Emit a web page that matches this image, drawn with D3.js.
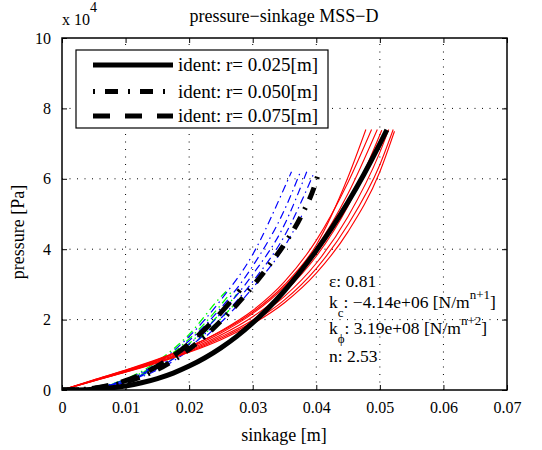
<!DOCTYPE html>
<html>
<head>
<meta charset="utf-8">
<script src="https://cdn.jsdelivr.net/npm/d3@7"></script>
<style>
  html, body { margin: 0; padding: 0; background: #fff; }
  svg { display: block; font-family: "Liberation Serif", "Times New Roman", serif; }
  svg text { font-family: "Liberation Serif", "Times New Roman", serif; }
</style>
</head>
<body>
<svg id="chart" width="542" height="450"></svg>
<script>
// ---- tick labels ----
const xTicks = [0, 0.01, 0.02, 0.03, 0.04, 0.05, 0.06, 0.07];
const yTicks = [0, 20000, 40000, 60000, 80000, 100000];
const yTickLabels = ["0", "2", "4", "6", "8", "10"];

// ---- identified curves (black) ----
const identZ_025 = [0, 0.0025, 0.005, 0.0075, 0.01, 0.0125, 0.015, 0.0175, 0.02, 0.0225, 0.025, 0.0275, 0.03, 0.0325, 0.035, 0.0375, 0.04, 0.0425, 0.045, 0.0475, 0.05, 0.0511];
const identP_025 = [0, 34, 199, 559, 1160, 2050, 3260, 4810, 6790, 9160, 11980, 15240, 19050, 23330, 28200, 33660, 39600, 46200, 53400, 61300, 69900, 73900];
const identZ_050 = [0, 0.0025, 0.005, 0.0075, 0.01, 0.0125, 0.015, 0.0175, 0.02, 0.0225, 0.025, 0.0275, 0.03, 0.0325, 0.035, 0.0375, 0.04, 0.0404];
const identP_050 = [0, 85, 450, 1150, 2250, 3800, 5800, 8400, 11600, 15300, 19600, 24300, 29500, 35200, 41500, 49000, 59500, 62000];
const identZ_075 = [0, 0.0025, 0.005, 0.0075, 0.01, 0.0125, 0.015, 0.0175, 0.02, 0.0225, 0.025, 0.0275, 0.028];
const identP_075 = [0, 100, 520, 1350, 2650, 4450, 6800, 9700, 13200, 17300, 22000, 27300, 28400];

// ---- measured runs r = 0.025 (red) ----
const redZ = [0, 0.005, 0.01, 0.015, 0.02, 0.025, 0.03, 0.035, 0.04, 0.045];
const redP1 = [0, 2900, 5700, 8700, 12300, 16600, 22100, 29900, 41200, 60500];
const redP2 = [0, 2850, 5600, 8600, 12200, 16800, 22600, 30800, 42500, 59000];
const redP3 = [0, 2780, 5450, 8400, 11900, 16200, 21700, 29400, 40400, 55800];
const redP4 = [0, 2720, 5350, 8200, 11500, 15600, 20800, 27900, 38000, 52300];
const redP5 = [0, 2650, 5200, 7950, 11150, 15100, 19900, 26600, 36000, 49300];
const redP6 = [0, 2600, 5100, 7800, 10900, 14700, 19300, 25600, 34500, 47000];
const redP7 = [0, 2580, 5050, 7650, 10700, 14300, 18800, 24800, 33200, 45000];
const redEndZ = [0.0478, 0.0487, 0.0496, 0.0503, 0.0514, 0.0521, 0.0523];
const redEndP = [74000, 74000, 74000, 73800, 74000, 74000, 73500];
const redMidZ = [null, null, null, null, 0.05, 0.05, 0.05];
const redMidP = [null, null, null, null, 67500, 64000, 62000];

// ---- measured runs r = 0.050 (blue) ----
const blueZ = [0, 0.005, 0.01, 0.015, 0.02, 0.025, 0.03, 0.035];
const blueP1 = [0, 650, 2950, 7600, 15200, 25600, 38500, 57500];
const blueP2 = [0, 580, 2720, 7000, 14000, 23300, 35200, 51200];
const blueP3 = [0, 530, 2550, 6550, 13000, 21800, 32800, 47000];
const blueP4 = [0, 480, 2380, 6100, 12100, 20400, 30800, 43800];
const blueP5 = [0, 440, 2200, 5700, 11300, 19200, 29000, 40800];
const blueEndZ = [0.0361, 0.0374, 0.0385, 0.0396, 0.038];
const blueEndP = [62000, 61500, 62000, 61500, 50500];

// ---- measured runs r = 0.075 (green) ----
const greenZ = [0, 0.005, 0.01, 0.015, 0.02, 0.025];
const greenP1 = [0, 620, 3100, 8100, 15800, 26500];
const greenP2 = [0, 570, 2880, 7400, 14500, 24200];
const greenP3 = [0, 520, 2650, 6800, 13200, 22000];
const greenP4 = [0, 480, 2450, 6300, 12200, 20300];
const greenEndZ = [0.0258, 0.0267, 0.0275, 0.028];
const greenEndP = [28000, 28000, 27200, 26000];

const legendLabels = ["ident: r= 0.025[m]", "ident: r= 0.050[m]", "ident: r= 0.075[m]"];

// ---- layout ----
const svg = d3.select("#chart");
const m = { left: 62, right: 507, top: 38, bottom: 390 };
const x = d3.scaleLinear().domain([0, 0.07]).range([m.left, m.right]);
const y = d3.scaleLinear().domain([0, 100000]).range([m.bottom, m.top]);
const FONT = '"Liberation Serif", "Times New Roman", serif';

// grid
const grid = svg.append("g");
xTicks.slice(1, -1).forEach(t => {
  grid.append("line").attr("x1", x(t)).attr("x2", x(t)).attr("y1", y(0)).attr("y2", y(100000))
    .attr("stroke", "#000").attr("stroke-width", 1).attr("stroke-dasharray", "1,6.5");
});
yTicks.slice(1, -1).forEach(t => {
  grid.append("line").attr("x1", x(0)).attr("x2", x(0.07)).attr("y1", y(t)).attr("y2", y(t))
    .attr("stroke", "#000").attr("stroke-width", 1).attr("stroke-dasharray", "1,6.5");
});

// clip
svg.append("clipPath").attr("id", "clip").append("rect")
  .attr("x", m.left).attr("y", m.top).attr("width", m.right - m.left).attr("height", m.bottom - m.top);
const plot = svg.append("g").attr("clip-path", "url(#clip)");

const line = d3.line().x(d => x(d[0])).y(d => y(d[1])).curve(d3.curveMonotoneX);
function pts(zs, ps, extra) {
  const out = zs.map((z, i) => [z, ps[i]]);
  extra.forEach(e => { if (e[0] != null) out.push(e); });
  return out;
}

// green
[greenP1, greenP2, greenP3, greenP4].forEach((ps, i) => {
  plot.append("path").datum(pts(greenZ, ps, [[greenEndZ[i], greenEndP[i]]]))
    .attr("d", line).attr("fill", "none").attr("stroke", "#00ff00").attr("stroke-width", 1.3)
    .attr("stroke-dasharray", "8,4,1.5,4").attr("stroke-dashoffset", i * 3);
});
// blue
[blueP1, blueP2, blueP3, blueP4, blueP5].forEach((ps, i) => {
  plot.append("path").datum(pts(blueZ, ps, [[blueEndZ[i], blueEndP[i]]]))
    .attr("d", line).attr("fill", "none").attr("stroke", "#0000ff").attr("stroke-width", 1.2)
    .attr("stroke-dasharray", "8,4,1.5,4").attr("stroke-dashoffset", i * 4);
});
// red
[redP1, redP2, redP3, redP4, redP5, redP6, redP7].forEach((ps, i) => {
  plot.append("path").datum(pts(redZ, ps, [[redMidZ[i], redMidP[i]], [redEndZ[i], redEndP[i]]]))
    .attr("d", line).attr("fill", "none").attr("stroke", "#ff0000").attr("stroke-width", 1.1);
});
// identified
const identStyles = [
  { z: identZ_025, p: identP_025, dash: null },
  { z: identZ_050, p: identP_050, dash: "13,9,2,9" },
  { z: identZ_075, p: identP_075, dash: "17,13" }
];
identStyles.forEach(s => {
  const pth = plot.append("path").datum(pts(s.z, s.p, []))
    .attr("d", line).attr("fill", "none").attr("stroke", "#000").attr("stroke-width", 5);
  if (s.dash) pth.attr("stroke-dasharray", s.dash);
});

// axes box + ticks
const axG = svg.append("g");
function styleAxis(g) {
  g.select(".domain").remove();
  g.attr("font-family", FONT);
  g.selectAll(".tick line").attr("stroke", "#000").attr("stroke-width", 1);
  g.selectAll("text").attr("font-family", FONT).attr("font-size", 16).attr("fill", "#000");
}
axG.append("g").attr("transform", `translate(0,${m.bottom})`)
  .call(d3.axisBottom(x).tickValues(xTicks).tickSize(-5).tickPadding(12)
    .tickFormat(d => d === 0 ? "0" : d.toFixed(2)))
  .call(styleAxis);
axG.append("g").attr("transform", `translate(0,${m.top})`)
  .call(d3.axisTop(x).tickValues(xTicks).tickSize(-5).tickFormat(""))
  .call(styleAxis);
axG.append("g").attr("transform", `translate(${m.left},0)`)
  .call(d3.axisLeft(y).tickValues(yTicks).tickSize(-5).tickPadding(11)
    .tickFormat((d, i) => yTickLabels[i]))
  .call(styleAxis);
axG.append("g").attr("transform", `translate(${m.right},0)`)
  .call(d3.axisRight(y).tickValues(yTicks).tickSize(-5).tickFormat(""))
  .call(styleAxis);
svg.append("rect").attr("x", m.left).attr("y", m.top)
  .attr("width", m.right - m.left).attr("height", m.bottom - m.top)
  .attr("fill", "none").attr("stroke", "#000").attr("stroke-width", 1.5);

// legend
const lg = svg.append("g");
lg.append("rect").attr("x", 76).attr("y", 50).attr("width", 252).attr("height", 78)
  .attr("fill", "#fff").attr("stroke", "#000").attr("stroke-width", 1.2);
const rowY = [65, 91.5, 116];
const legDash = [null, "2,10,13,10", "17,15"];
legendLabels.forEach((t, i) => {
  const l = lg.append("line").attr("x1", 93).attr("x2", 173).attr("y1", rowY[i]).attr("y2", rowY[i])
    .attr("stroke", "#000").attr("stroke-width", 5);
  if (legDash[i]) l.attr("stroke-dasharray", legDash[i]);
  lg.append("text").attr("x", 178).attr("y", rowY[i] + 6).attr("font-family", FONT)
    .attr("font-size", 19).text(t);
});

// title and labels
svg.append("text").attr("x", 284).attr("y", 22).attr("text-anchor", "middle")
  .attr("font-family", FONT).attr("font-size", 18).text("pressure\u2212sinkage MSS\u2212D");
const ex = svg.append("text").attr("x", 62).attr("y", 25).attr("font-family", FONT).attr("font-size", 16);
ex.append("tspan").text("x 10");
ex.append("tspan").attr("dy", -13).attr("font-size", 14).text("4");
svg.append("text").attr("x", 284).attr("y", 441).attr("text-anchor", "middle")
  .attr("font-family", FONT).attr("font-size", 18).text("sinkage [m]");
svg.append("text").attr("transform", "translate(24,232) rotate(-90)").attr("text-anchor", "middle")
  .attr("font-family", FONT).attr("font-size", 18).text("pressure [Pa]");

// annotation
const ann = svg.append("g").attr("font-family", FONT).attr("font-size", 17.5);
ann.append("text").attr("x", 329).attr("y", 287).text("\u03b5: 0.81");
const t2 = ann.append("text").attr("x", 329).attr("y", 308);
t2.append("tspan").text("k");
t2.append("tspan").attr("dy", 9).attr("font-size", 13).text("c");
t2.append("tspan").attr("dy", -9).text(": \u22124.14e+06 [N/m");
t2.append("tspan").attr("dy", -9).attr("font-size", 13).text("n+1");
t2.append("tspan").attr("dy", 9).text("]");
const t3 = ann.append("text").attr("x", 329).attr("y", 334);
t3.append("tspan").text("k");
t3.append("tspan").attr("dy", 9).attr("font-size", 13).text("\u03d5");
t3.append("tspan").attr("dy", -9).text(": 3.19e+08 [N/m");
t3.append("tspan").attr("dy", -9).attr("font-size", 13).text("n+2");
t3.append("tspan").attr("dy", 9).text("]");
ann.append("text").attr("x", 329).attr("y", 362).text("n:  2.53");
</script>
</body>
</html>
